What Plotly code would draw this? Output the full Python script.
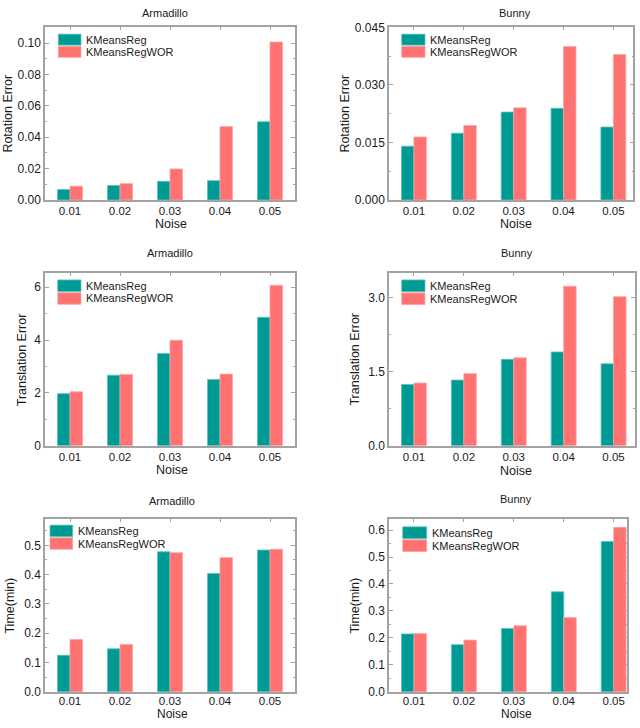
import plotly.graph_objects as go

# ---------------- data ----------------
noise = ["0.01", "0.02", "0.03", "0.04", "0.05"]
series_names = ["KMeansReg", "KMeansRegWOR"]

arm_rot_kmr = [0.0067, 0.0092, 0.0119, 0.0123, 0.0499]
arm_rot_wor = [0.0088, 0.0104, 0.0198, 0.0468, 0.1008]
bun_rot_kmr = [0.0140, 0.0174, 0.0229, 0.0239, 0.0190]
bun_rot_wor = [0.0164, 0.0194, 0.0240, 0.0400, 0.0379]

arm_tr_kmr = [1.97, 2.67, 3.49, 2.51, 4.86]
arm_tr_wor = [2.04, 2.70, 3.99, 2.71, 6.07]
bun_tr_kmr = [1.24, 1.33, 1.75, 1.90, 1.66]
bun_tr_wor = [1.27, 1.46, 1.78, 3.23, 3.02]

arm_time_kmr = [0.125, 0.147, 0.478, 0.404, 0.484]
arm_time_wor = [0.179, 0.162, 0.475, 0.458, 0.487]
bun_time_kmr = [0.215, 0.175, 0.235, 0.371, 0.558]
bun_time_wor = [0.216, 0.192, 0.245, 0.276, 0.610]

titles = ["Armadillo", "Bunny", "Armadillo", "Bunny", "Armadillo", "Bunny"]
ytitles = ["Rotation Error", "Rotation Error", "Translation Error",
           "Translation Error", "Time(min)", "Time(min)"]
xtitle = "Noise"

# ---------------- styling / layout geometry ----------------
W, H = 640, 728
TEAL = "#009a95"
SALMON = "#ff7272"
TEAL_EDGE = "#5cc3be"
SALMON_EDGE = "#ffa3a3"
AXIS_COL = "#a3a3a3"
TXT = "#1a1a1a"
FONT = "Liberation Sans, Arial, sans-serif"

def fx(px):
    return px / W

def fy(py):
    return 1 - py / H

panels = [
    dict(kmr=arm_rot_kmr, wor=arm_rot_wor, x0=45, x1=295, y0=20.7, y1=196.7,
         xr=[-0.5, 4.5], yr=[0, 0.1102], dtick=0.02, minor=0.01, fmt=".2f",
         title=(165, 5.8), xt=(171, 221.5), yt=(8, 108.7),
         leg=(58.3, 27.7, 81, 11.2), xstand=0),
    dict(kmr=bun_rot_kmr, wor=bun_rot_wor, x0=389, x1=633.3, y0=20.7, y1=196.7,
         xr=[-0.5, 4.4], yr=[0, 0.045], dtick=0.015, minor=0.0075, fmt=".3f",
         title=(515, 5.8), xt=(515.7, 221.5), yt=(345, 108.7),
         leg=(401.7, 27.7, 425, 11.2), xstand=0),
    dict(kmr=arm_tr_kmr, wor=arm_tr_wor, x0=45, x1=295, y0=271.7, y1=447.3,
         xr=[-0.5, 4.5], yr=[0, 6.52], dtick=2, minor=1, fmt="d",
         title=(170, 250.7), xt=(172, 471.7), yt=(21.7, 359.5),
         leg=(57.7, 278.3, 81, 11.8), xstand=0),
    dict(kmr=bun_tr_kmr, wor=bun_tr_wor, x0=389, x1=635, y0=271.7, y1=447.3,
         xr=[-0.5, 4.43], yr=[0, 3.49], dtick=1.5, minor=0.75, fmt=".1f",
         title=(516.7, 251), xt=(515.7, 473.3), yt=(355, 359.5),
         leg=(401.7, 278.3, 425, 12.0), xstand=0),
    dict(kmr=arm_time_kmr, wor=arm_time_wor, x0=45, x1=295, y0=522.3, y1=698.3,
         xr=[-0.5, 4.5], yr=[0, 0.589], dtick=0.1, minor=0.05, fmt=".1f",
         title=(172, 503.3), xt=(172, 721.0), yt=(10, 610.3),
         leg=(50, 528.3, 72.7, 11.7), xstand=-2),
    dict(kmr=bun_time_kmr, wor=bun_time_wor, x0=389, x1=626.7, y0=522.3, y1=698.3,
         xr=[-0.5, 4.26], yr=[0, 0.64], dtick=0.1, minor=0.05, fmt=".1f",
         title=(516, 501.7), xt=(516, 721.0), yt=(355, 610.3),
         leg=(402.7, 530, 426.7, 12.0), xstand=-2),
]

fig = go.Figure()
layout = dict(
    width=W, height=H, autosize=False,
    margin=dict(l=0, r=0, t=0, b=0),
    paper_bgcolor="white", plot_bgcolor="white",
    bargap=0.5, bargroupgap=0.0, barmode="group",
    showlegend=False,
    font=dict(family=FONT, color=TXT),
)
annotations = []
shapes = []

for i, p in enumerate(panels):
    n = i + 1
    xa = "x" if n == 1 else f"x{n}"
    ya = "y" if n == 1 else f"y{n}"
    for vals, name, col, edge in [(p["kmr"], series_names[0], TEAL, TEAL_EDGE),
                                  (p["wor"], series_names[1], SALMON, SALMON_EDGE)]:
        fig.add_trace(go.Bar(
            x=noise, y=vals, name=name, xaxis=xa, yaxis=ya,
            marker=dict(color=col, line=dict(color=edge, width=0.8)),
            offsetgroup=name,
        ))
    xkey = "xaxis" if n == 1 else f"xaxis{n}"
    ykey = "yaxis" if n == 1 else f"yaxis{n}"
    layout[xkey] = dict(
        domain=[fx(p["x0"]), fx(p["x1"])], anchor=ya,
        type="category", range=p["xr"],
        showline=True, linecolor=AXIS_COL, linewidth=1.5, mirror="ticks",
        ticks="inside", ticklen=3, tickcolor=AXIS_COL, tickwidth=1,
        ticklabelstandoff=p["xstand"],
        tickfont=dict(size=11.5, color=TXT, family=FONT),
        showgrid=False, zeroline=False, fixedrange=True,
    )
    layout[ykey] = dict(
        domain=[fy(p["y1"]), fy(p["y0"])], anchor=xa,
        range=p["yr"], dtick=p["dtick"], tick0=0, tickformat=p["fmt"],
        showline=True, linecolor=AXIS_COL, linewidth=1.5, mirror="ticks",
        ticks="inside", ticklen=4, tickcolor=AXIS_COL, tickwidth=1,
        minor=dict(ticks="inside", ticklen=2, dtick=p["minor"], tickcolor=AXIS_COL),
        tickfont=dict(size=12, color=TXT, family=FONT),
        showgrid=False, zeroline=False, fixedrange=True,
    )
    # titles
    annotations.append(dict(text=titles[i], x=fx(p["title"][0]), y=fy(p["title"][1]),
                            xref="paper", yref="paper", showarrow=False,
                            xanchor="center", yanchor="middle",
                            font=dict(size=11, color=TXT, family=FONT)))
    annotations.append(dict(text=xtitle, x=fx(p["xt"][0]), y=fy(p["xt"][1]),
                            xref="paper", yref="paper", showarrow=False,
                            xanchor="center", yanchor="middle",
                            font=dict(size=12.5 if n <= 4 else 12, color=TXT, family=FONT)))
    annotations.append(dict(text=ytitles[i], x=fx(p["yt"][0]), y=fy(p["yt"][1]),
                            xref="paper", yref="paper", showarrow=False, textangle=-90,
                            xanchor="center", yanchor="middle",
                            font=dict(size=12.5, color=TXT, family=FONT)))
    # legend (inside, top-left)
    lx0, ly0, lx1, lh = p["leg"]
    for k, (name, col, edge) in enumerate([(series_names[0], TEAL, TEAL_EDGE),
                                           (series_names[1], SALMON, SALMON_EDGE)]):
        yt0 = ly0 + k * (lh + 1.2)
        shapes.append(dict(type="rect", xref="paper", yref="paper",
                           x0=fx(lx0), x1=fx(lx1), y0=fy(yt0 + lh), y1=fy(yt0),
                           fillcolor=col, line=dict(color=edge, width=0.8)))
        annotations.append(dict(text=name, x=fx(lx1 + 3), y=fy(yt0 + lh / 2),
                                xref="paper", yref="paper", showarrow=False,
                                xanchor="left", yanchor="middle",
                                font=dict(size=11, color=TXT, family=FONT)))

layout["annotations"] = annotations
layout["shapes"] = shapes
fig.update_layout(**layout)
fig.write_html("out.html",
               config={"displayModeBar": False},
               post_script="document.body.style.margin='0';document.body.style.padding='0';")
